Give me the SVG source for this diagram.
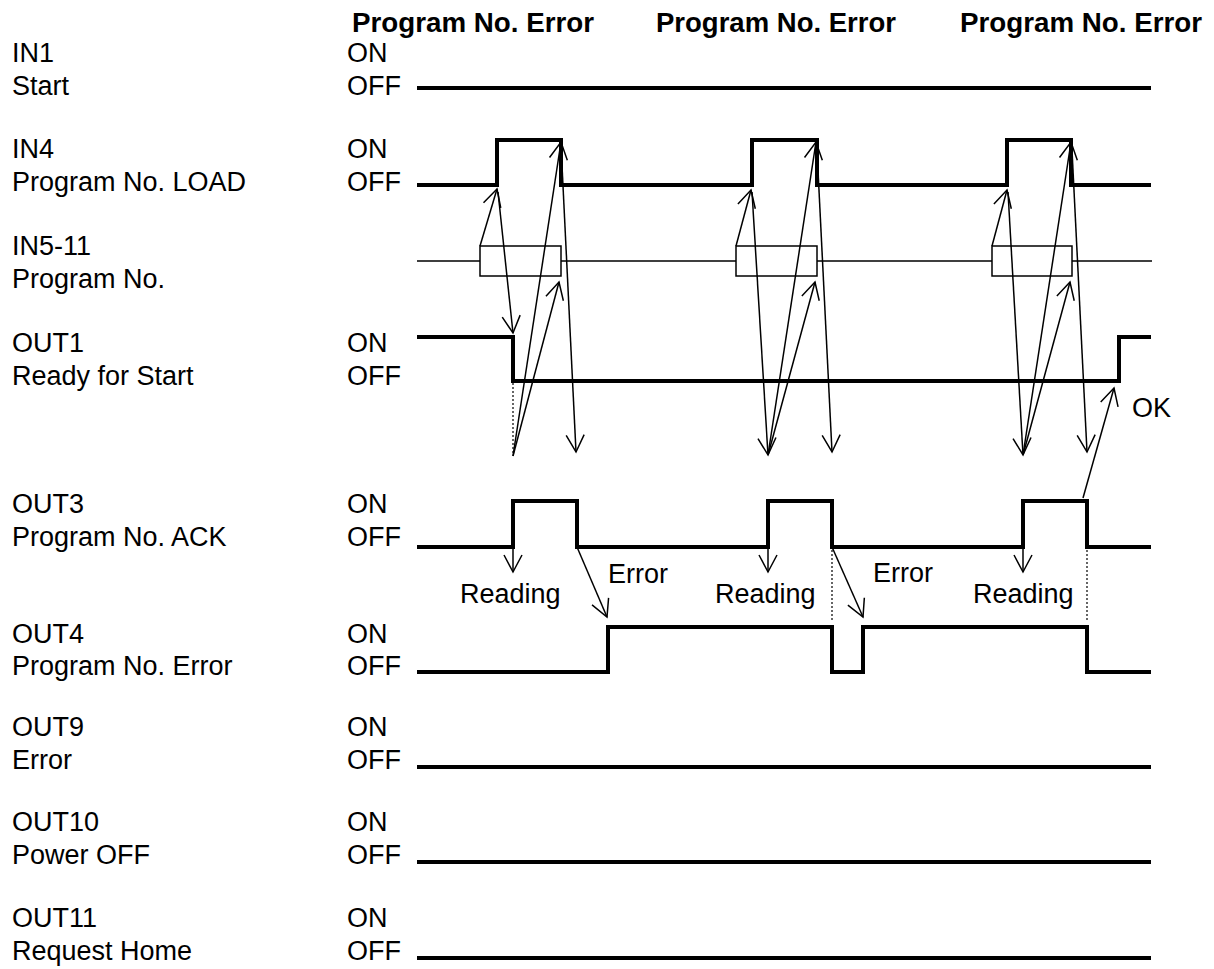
<svg xmlns="http://www.w3.org/2000/svg" width="1214" height="969" viewBox="0 0 1214 969">
<style>
text{font-family:"Liberation Sans",Arial,sans-serif;font-size:27px;fill:#000}
.hdr{font-weight:bold}
.sig{fill:none;stroke:#000;stroke-width:4;stroke-linejoin:miter}
.bus{fill:none;stroke:#000;stroke-width:1.5}
.arr{fill:none;stroke:#000;stroke-width:1.5;marker-end:url(#ah)}
.dot{fill:none;stroke:#000;stroke-width:1.2;stroke-dasharray:2 2}
</style>
<defs>
<marker id="ah" markerUnits="userSpaceOnUse" markerWidth="24" markerHeight="24" viewBox="-20 -12 24 24" refX="0" refY="0" orient="auto">
<path d="M-17,-9 L0,0 L-17,9" fill="none" stroke="#000" stroke-width="1.5"/>
</marker>
</defs>
<rect width="1214" height="969" fill="#fff"/>
<g id="header">
<text class="hdr" x="352" y="32" textLength="242" lengthAdjust="spacingAndGlyphs">Program No. Error</text>
<text class="hdr" x="656" y="32" textLength="240" lengthAdjust="spacingAndGlyphs">Program No. Error</text>
<text class="hdr" x="960" y="32" textLength="242" lengthAdjust="spacingAndGlyphs">Program No. Error</text>
</g>
<g id="row-in1">
<text x="12" y="62">IN1</text><text x="12" y="95">Start</text>
<text x="347" y="62">ON</text><text x="347" y="95">OFF</text>
<path class="sig" d="M417,88 H1151"/>
</g>
<g id="row-in4">
<text x="12" y="158">IN4</text><text x="12" y="191">Program No. LOAD</text>
<text x="347" y="158">ON</text><text x="347" y="191">OFF</text>
<path class="sig" d="M417,185 H497 V140 H561 V185 H752 V140 H817 V185 H1007 V140 H1071 V185 H1151"/>
</g>
<g id="row-in5">
<text x="12" y="255">IN5-11</text><text x="12" y="288">Program No.</text>
<path class="bus" d="M417,261 H480 M561,261 H736 M817,261 H992 M1072,261 H1152"/>
<rect class="bus" x="480" y="246" width="81" height="30"/>
<rect class="bus" x="736" y="246" width="81" height="30"/>
<rect class="bus" x="992" y="246" width="80" height="30"/>
</g>
<g id="row-out1">
<text x="12" y="352">OUT1</text><text x="12" y="385">Ready for Start</text>
<text x="347" y="352">ON</text><text x="347" y="385">OFF</text>
<path class="sig" d="M417,337 H513 V381 H1119 V337 H1151"/>
</g>
<g id="row-out3">
<text x="12" y="513">OUT3</text><text x="12" y="546">Program No. ACK</text>
<text x="347" y="513">ON</text><text x="347" y="546">OFF</text>
<path class="sig" d="M417,547 H513 V501 H577 V547 H768 V501 H832 V547 H1023 V501 H1087 V547 H1151"/>
</g>
<g id="row-out4">
<text x="12" y="643">OUT4</text><text x="12" y="675">Program No. Error</text>
<text x="347" y="643">ON</text><text x="347" y="675">OFF</text>
<path class="sig" d="M417,672 H608 V627 H832 V672 H863 V627 H1087 V672 H1151"/>
</g>
<g id="row-out9">
<text x="12" y="736">OUT9</text><text x="12" y="769">Error</text>
<text x="347" y="736">ON</text><text x="347" y="769">OFF</text>
<path class="sig" d="M417,767 H1151"/>
</g>
<g id="row-out10">
<text x="12" y="831">OUT10</text><text x="12" y="864">Power OFF</text>
<text x="347" y="831">ON</text><text x="347" y="864">OFF</text>
<path class="sig" d="M417,862 H1151"/>
</g>
<g id="row-out11">
<text x="12" y="927">OUT11</text><text x="12" y="960">Request Home</text>
<text x="347" y="927">ON</text><text x="347" y="960">OFF</text>
<path class="sig" d="M417,958 H1151"/>
</g>
<g id="annotations">
<text x="460" y="603">Reading</text>
<text x="715" y="603">Reading</text>
<text x="973" y="603">Reading</text>
<text x="608" y="583">Error</text>
<text x="873" y="582">Error</text>
<text x="1132" y="417">OK</text>
</g>
<g id="connectors">
<path class="dot" d="M513,383 V455 M832,550 V620 M1087,550 V620"/>
<path class="arr" d="M480,246 L497,189"/>
<path class="arr" d="M498,192 L513,333"/>
<path class="arr" d="M513,456 L561,142"/>
<path class="arr" d="M513,456 L559,282"/>
<path class="arr" d="M561,145 L576,452"/>
<path class="arr" d="M736,246 L751,190"/>
<path class="arr" d="M752,192 L768,455"/>
<path class="arr" d="M768,455 L816,142"/>
<path class="arr" d="M768,455 L815,282"/>
<path class="arr" d="M817,150 L832,452"/>
<path class="arr" d="M992,246 L1007,190"/>
<path class="arr" d="M1008,192 L1023,455"/>
<path class="arr" d="M1023,455 L1071,142"/>
<path class="arr" d="M1023,455 L1070,282"/>
<path class="arr" d="M1072,150 L1087,452"/>
<path class="arr" d="M1083,498 L1114,388"/>
<path class="arr" d="M513,547 V572"/>
<path class="arr" d="M768,547 V572"/>
<path class="arr" d="M1023,547 V572"/>
<path class="arr" d="M577,547 L607,617"/>
<path class="arr" d="M832,547 L863,617"/>
</g>
</svg>
